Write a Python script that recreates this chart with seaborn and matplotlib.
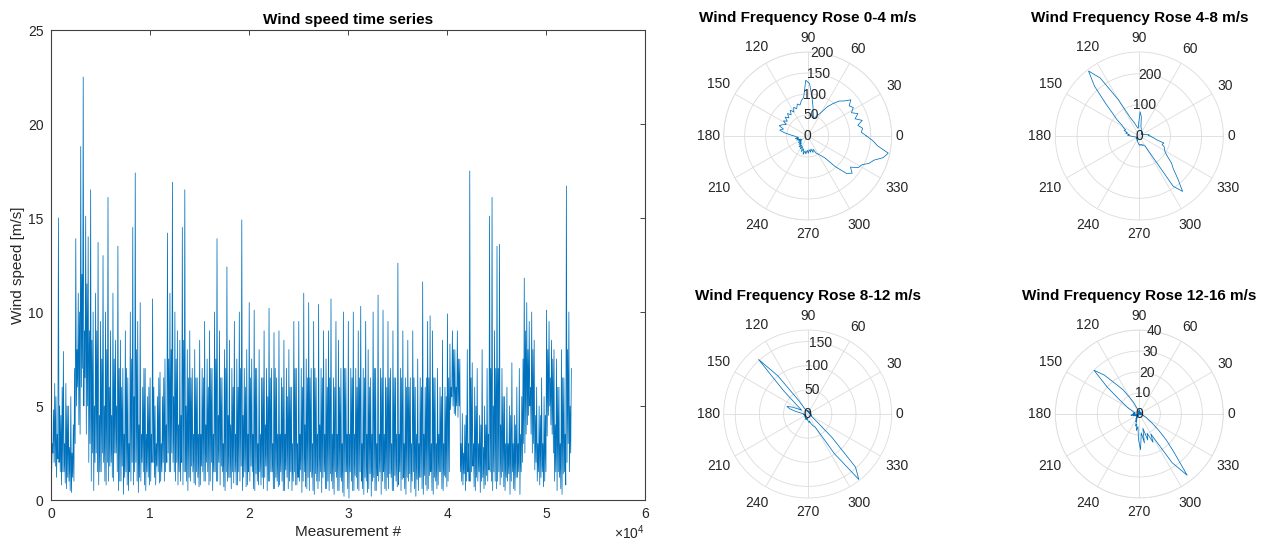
import numpy as np
import matplotlib
matplotlib.use("Agg")
import matplotlib.pyplot as plt
import seaborn as sns

# ---------------------------------------------------------------------------
# Wind speed record: successive local highs / lows of the 10-minute series
# (m/s), one block per 10 000 measurements (16 turning points per 1 000).
# ---------------------------------------------------------------------------
N_MEASUREMENTS = 52560

speed_0_1e4 = [
    6.5, 1.5, 3.0, 2.5, 4.8, 2.0, 6.2, 1.8, 5.5, 1.2, 3.5, 2.2, 15.0, 2.0, 5.0, 1.5,
    4.5, 0.8, 6.0, 1.5, 7.9, 1.5, 3.0, 0.9, 6.2, 0.6, 5.0, 1.2, 5.0, 1.0, 2.8, 0.5,
    5.5, 0.4, 2.5, 1.2, 4.0, 1.0, 7.0, 3.0, 13.9, 5.0, 8.0, 6.0, 11.0, 4.0, 10.0, 3.5,
    18.8, 6.0, 12.0, 7.0, 22.5, 5.0, 9.0, 6.5, 15.1, 3.5, 11.5, 5.0, 14.0, 2.0, 9.0, 3.0,
    16.5, 1.0, 8.5, 2.5, 10.0, 0.5, 5.0, 2.0, 11.0, 2.5, 9.0, 1.5, 13.7, 0.8, 4.5, 1.5,
    9.5, 1.5, 7.5, 2.5, 13.0, 2.0, 5.0, 1.0, 10.0, 0.8, 8.0, 2.0, 16.1, 1.0, 6.0, 1.8,
    9.0, 2.0, 4.5, 1.2, 11.0, 1.0, 7.5, 2.5, 8.5, 2.5, 5.0, 1.5, 13.5, 0.5, 7.0, 1.0,
    8.5, 1.0, 6.0, 1.8, 7.0, 0.3, 3.5, 1.2, 9.0, 1.5, 7.0, 0.8, 6.5, 0.5, 3.0, 1.5,
    10.0, 1.0, 7.5, 2.0, 14.5, 0.8, 5.5, 1.5, 17.4, 2.0, 8.0, 1.0, 9.5, 0.4, 4.0, 1.2,
    10.5, 1.0, 3.5, 2.0, 6.0, 1.5, 7.0, 0.8, 7.0, 0.5, 3.5, 1.5, 5.5, 1.2, 6.0, 0.8,
]
speed_1e4_2e4 = [
    6.5, 1.0, 3.5, 2.0, 10.7, 2.0, 6.0, 1.2, 5.0, 0.8, 3.0, 1.8, 5.5, 1.5, 6.5, 0.9,
    6.8, 1.0, 3.0, 1.5, 5.5, 2.0, 6.5, 1.0, 7.5, 1.5, 4.0, 2.0, 14.2, 2.5, 7.5, 1.5,
    11.0, 1.5, 8.0, 2.5, 16.9, 2.0, 5.5, 1.5, 10.0, 1.0, 7.5, 2.0, 9.0, 0.8, 4.0, 1.5,
    8.5, 1.0, 4.5, 2.0, 14.5, 0.8, 8.5, 1.5, 16.5, 1.5, 5.0, 1.0, 8.0, 0.5, 6.5, 1.2,
    9.0, 1.0, 6.5, 1.8, 7.0, 1.5, 3.5, 0.9, 8.0, 0.8, 6.5, 1.5, 6.5, 1.2, 3.5, 0.7,
    8.5, 0.8, 3.5, 1.8, 7.0, 1.5, 6.5, 1.0, 9.5, 1.0, 4.0, 2.0, 7.5, 1.5, 6.0, 0.8,
    9.0, 1.0, 7.0, 2.0, 7.0, 0.5, 3.5, 1.5, 10.0, 1.5, 7.5, 1.0, 13.9, 1.0, 4.5, 2.0,
    9.0, 0.8, 6.5, 1.8, 6.5, 1.5, 3.0, 0.7, 8.0, 0.5, 7.0, 1.5, 12.4, 1.0, 4.5, 1.2,
    8.5, 1.2, 4.0, 0.6, 7.0, 1.5, 6.0, 0.9, 9.5, 1.5, 3.5, 0.8, 7.5, 0.8, 6.0, 1.5,
    10.0, 1.0, 7.0, 1.8, 14.9, 0.5, 4.5, 1.2, 7.0, 1.5, 6.0, 0.7, 8.0, 0.8, 3.5, 1.5,
]
speed_2e4_3e4 = [
    10.5, 1.0, 6.5, 1.8, 7.5, 1.5, 3.5, 0.6, 10.1, 0.5, 7.0, 1.4, 7.0, 1.0, 3.0, 0.8,
    8.0, 1.5, 3.5, 0.8, 6.5, 1.2, 6.5, 0.6, 9.0, 1.2, 4.0, 1.8, 7.0, 0.5, 5.5, 1.0,
    10.2, 1.0, 6.5, 1.5, 7.0, 1.5, 3.0, 0.6, 8.9, 0.6, 7.0, 1.2, 6.5, 1.0, 3.5, 0.7,
    9.0, 0.8, 3.5, 1.5, 6.5, 1.0, 6.0, 0.5, 8.5, 0.5, 3.5, 1.6, 7.0, 1.2, 5.5, 0.6,
    8.0, 1.0, 6.0, 1.5, 6.0, 0.5, 3.0, 1.0, 9.5, 1.5, 7.0, 0.8, 7.0, 0.8, 3.0, 1.2,
    9.5, 1.0, 3.5, 1.6, 7.0, 0.4, 6.0, 1.0, 11.0, 1.5, 4.0, 0.7, 7.5, 0.6, 6.5, 1.2,
    10.5, 0.5, 6.5, 1.5, 7.0, 1.2, 3.0, 0.5, 9.5, 0.3, 7.0, 1.4, 6.5, 1.0, 3.5, 0.6,
    10.4, 1.0, 4.0, 1.5, 7.0, 0.4, 6.5, 1.2, 9.0, 1.5, 3.5, 0.6, 7.5, 0.6, 6.0, 1.0,
    9.0, 0.5, 6.5, 1.4, 10.7, 1.0, 3.5, 0.6, 6.5, 0.3, 6.0, 1.5, 9.5, 1.2, 3.5, 0.5,
    8.5, 0.5, 6.0, 1.2, 7.0, 1.0, 3.0, 0.4, 10.0, 0.2, 7.0, 1.5, 7.0, 1.5, 3.5, 0.6,
]
speed_3e4_4e4 = [
    9.5, 0.1, 3.5, 1.5, 7.0, 1.0, 6.5, 0.5, 10.0, 0.5, 3.5, 1.3, 7.0, 1.2, 6.0, 0.6,
    9.0, 0.5, 6.5, 1.5, 10.3, 1.0, 3.0, 0.6, 7.0, 0.3, 6.5, 1.2, 9.5, 1.0, 3.5, 0.4,
    8.0, 0.6, 6.0, 1.4, 6.5, 0.2, 3.5, 1.0, 10.0, 1.2, 7.0, 0.5, 7.0, 0.5, 3.0, 1.3,
    10.9, 1.0, 3.5, 1.5, 7.0, 0.3, 6.5, 1.0, 10.1, 1.5, 3.5, 0.6, 6.5, 0.5, 6.0, 1.2,
    9.5, 0.6, 6.5, 1.4, 7.0, 1.2, 3.0, 0.5, 9.0, 0.5, 6.5, 1.3, 6.5, 1.0, 3.5, 0.7,
    12.6, 0.8, 3.5, 1.5, 7.0, 0.5, 6.5, 1.1, 9.0, 1.2, 3.0, 0.6, 6.5, 0.3, 6.0, 1.2,
    8.5, 1.0, 6.0, 1.4, 6.5, 0.4, 3.0, 1.0, 9.0, 1.5, 6.5, 0.6, 6.0, 0.2, 3.5, 1.1,
    7.5, 0.5, 3.0, 1.2, 6.5, 1.2, 6.0, 0.6, 11.6, 0.3, 3.5, 1.3, 6.0, 0.8, 6.5, 0.5,
    9.5, 0.6, 6.5, 1.3, 9.8, 1.5, 3.0, 0.5, 9.0, 0.3, 6.5, 1.2, 6.5, 1.0, 3.0, 0.6,
    7.0, 0.8, 3.5, 1.5, 6.0, 1.5, 5.5, 0.6, 8.5, 0.5, 3.0, 1.3, 6.0, 1.2, 5.5, 0.7,
]
speed_4e4_5e4 = [
    9.9, 1.0, 6.5, 1.5, 8.3, 4.8, 6.0, 5.5, 9.0, 5.0, 8.0, 4.6, 8.0, 4.5, 6.0, 5.0,
    9.0, 4.4, 7.5, 5.0, 7.5, 1.5, 3.0, 1.0, 4.6, 0.8, 2.5, 1.4, 4.0, 0.5, 4.5, 1.0,
    8.0, 1.5, 3.0, 1.0, 17.5, 1.0, 6.5, 1.5, 7.3, 1.8, 3.0, 0.7, 6.0, 0.5, 5.0, 1.2,
    7.0, 1.0, 3.0, 1.5, 4.5, 0.4, 4.0, 1.0, 8.0, 1.2, 2.8, 0.6, 5.0, 0.8, 4.0, 1.3,
    7.0, 1.0, 3.5, 1.6, 15.1, 1.5, 7.0, 1.0, 16.1, 0.5, 5.0, 1.5, 9.0, 1.0, 7.0, 0.6,
    13.5, 1.0, 7.0, 1.5, 13.6, 0.8, 4.0, 1.2, 7.0, 1.5, 5.5, 0.7, 5.5, 0.5, 3.0, 1.2,
    6.0, 1.0, 3.0, 1.4, 5.0, 0.3, 4.5, 1.0, 7.3, 1.5, 3.0, 0.6, 4.5, 0.5, 4.0, 1.2,
    6.0, 1.2, 3.0, 1.5, 7.0, 0.3, 3.5, 1.5, 5.5, 2.0, 7.5, 3.0, 11.8, 2.5, 9.0, 3.5,
    10.5, 4.0, 8.0, 4.5, 9.5, 5.0, 6.0, 3.5, 10.0, 2.5, 8.0, 3.0, 8.5, 1.6, 4.5, 2.0,
    6.0, 1.0, 3.0, 1.5, 5.0, 0.8, 4.5, 1.2, 6.5, 1.5, 3.0, 0.7, 5.5, 1.0, 4.5, 1.5,
]
speed_5e4_end = [
    10.1, 3.4, 8.0, 4.5, 9.5, 5.0, 6.5, 4.0, 8.5, 3.5, 7.5, 2.5, 8.0, 1.0, 4.0, 1.5,
    7.5, 0.5, 6.0, 1.5, 6.0, 1.2, 3.0, 0.6, 8.0, 0.3, 6.5, 1.4, 6.5, 1.5, 3.5, 0.8,
    16.7, 2.0, 8.0, 3.0, 10.0, 1.5, 5.0, 2.5, 7.0,
]

# ---------------------------------------------------------------------------
# Direction counts per 4-degree sector (0, 4, ..., 356 deg) for each speed class
# ---------------------------------------------------------------------------
ROSE_STEP_DEG = 4

rose_0_4 = [
    140, 128, 132, 122, 135, 120, 131, 118, 128, 122,
    134, 120, 112, 98, 84, 66, 55, 47, 44, 55,
    72, 95, 125, 133, 92, 86, 76, 80, 70, 76,
    66, 74, 64, 72, 62, 70, 60, 68, 58, 66,
    72, 60, 68, 56, 42, 32, 28, 22, 30, 22,
    28, 18, 25, 16, 27, 20, 29, 22, 33, 26,
    35, 28, 40, 32, 45, 36, 43, 34, 41, 33,
    39, 32, 41, 34, 45, 50, 56, 66, 98, 128,
    138, 126, 142, 146, 160, 168, 187, 196, 168, 155,
]
rose_4_8 = [
    35, 28, 32, 22, 18, 15, 12, 10, 12, 9,
    11, 10, 12, 14, 13, 16, 15, 18, 20, 26,
    30, 62, 78, 45, 28, 25, 30, 38, 50, 65,
    135, 225, 265, 215, 150, 110, 88, 66, 58, 48,
    52, 40, 45, 32, 38, 28, 22, 18, 14, 12,
    10, 9, 10, 8, 10, 12, 14, 12, 10, 12,
    14, 16, 14, 18, 20, 22, 25, 28, 30, 27,
    30, 28, 32, 30, 34, 38, 195, 226, 185, 152,
    135, 112, 98, 92, 88, 78, 82, 56, 48, 40,
]
rose_8_12 = [
    6, 5, 7, 4, 6, 5, 4, 6, 5, 4,
    5, 4, 6, 5, 4, 5, 6, 4, 5, 6,
    5, 7, 6, 5, 8, 6, 7, 9, 8, 10,
    14, 35, 100, 152, 70, 32, 20, 15, 22, 35,
    46, 38, 25, 14, 10, 8, 9, 7, 8, 6,
    7, 5, 8, 6, 7, 5, 8, 6, 9, 7,
    8, 10, 9, 12, 10, 11, 9, 12, 14, 16,
    18, 15, 20, 24, 28, 32, 100, 172, 148, 70,
    25, 14, 10, 8, 9, 7, 8, 6, 7, 5,
]
rose_12_16 = [
    1, 0, 1, 0, 0, 1, 0, 0, 1, 0,
    0, 1, 0, 0, 1, 0, 0, 1, 0, 1,
    0, 1, 2, 1, 0, 1, 0, 2, 3, 6,
    9, 14, 18, 25, 30, 20, 12, 8, 6, 4,
    3, 2, 2, 3, 2, 3, 2, 4, 2, 3,
    1, 2, 1, 0, 1, 0, 1, 2, 1, 3,
    2, 4, 3, 6, 5, 8, 6, 12, 17, 9,
    14, 7, 13, 10, 15, 11, 28, 37, 25, 18,
    12, 8, 5, 4, 3, 2, 2, 1, 1, 0,
]

rose_titles = ["Wind Frequency Rose 0-4 m/s", "Wind Frequency Rose 4-8 m/s",
               "Wind Frequency Rose 8-12 m/s", "Wind Frequency Rose 12-16 m/s"]
rose_limits = [200, 270, 174, 40]
rose_ticks = [[50, 100, 150, 200], [100, 200], [50, 100, 150], [10, 20, 30, 40]]
theta_labels = [str(a) for a in range(0, 360, 30)]

# ---------------------------------------------------------------------------
# Styling
# ---------------------------------------------------------------------------
sns.set_style("white")
plt.rcParams["font.family"] = ["Liberation Sans", "DejaVu Sans"]
plt.rcParams["mathtext.fontset"] = "custom"
plt.rcParams["mathtext.rm"] = "Liberation Sans"
plt.rcParams["mathtext.it"] = "Liberation Sans:italic"

LINE = "#0072BD"
TEXT = "#262626"
GRID = "#dcdcdc"

W, H = 1262, 543
fig = plt.figure(figsize=(W / 100, H / 100), dpi=100)


def px_rect(x0, y0, x1, y1):
    return [x0 / W, 1 - y1 / H, (x1 - x0) / W, (y1 - y0) / H]


# ---------------------------------------------------------------------------
# Time series
# ---------------------------------------------------------------------------
wind_speed = np.array(speed_0_1e4 + speed_1e4_2e4 + speed_2e4_3e4
                      + speed_3e4_4e4 + speed_4e4_5e4 + speed_5e4_end)
measurement = np.linspace(0, N_MEASUREMENTS, len(wind_speed))

ax = fig.add_axes(px_rect(51, 30, 645, 500))
sns.lineplot(x=measurement, y=wind_speed, ax=ax, sort=False,
             color=LINE, linewidth=0.55)
ax.set_xlim(0, 60000)
ax.set_ylim(0, 25)
ax.set_xticks(np.arange(0, 60001, 10000))
ax.set_xticklabels([str(i) for i in range(7)])
ax.set_yticks(np.arange(0, 26, 5))
ax.tick_params(direction="in", length=3.6, width=0.6, top=True, right=True,
               labelsize=10, colors=TEXT, pad=5.4)
for s in ax.spines.values():
    s.set_color("#404040")
    s.set_linewidth(0.8)
ax.set_xlabel("Measurement #", fontsize=11, color=TEXT)
ax.set_ylabel("Wind speed [m/s]", fontsize=11, color=TEXT)
ax.xaxis.set_label_coords(0.5, -25.5 / 470)
ax.yaxis.set_label_coords(-26 / 594, 0.5)
ax.text(1.0, -33 / 470, r"$\times10^{4}$", transform=ax.transAxes,
        ha="right", va="center", fontsize=10, color=TEXT)
ax.text(0.5, 1 + 10 / 470, "Wind speed time series", transform=ax.transAxes,
        ha="center", va="center", fontsize=11, fontweight="bold", color="black")

# ---------------------------------------------------------------------------
# Wind roses
# ---------------------------------------------------------------------------
R = 84
centers = [(807.7, 136), (1139.3, 136), (807.7, 414), (1139.3, 414)]
rose_counts = [rose_0_4, rose_4_8, rose_8_12, rose_12_16]
angles = np.arange(0, 360, ROSE_STEP_DEG)
grid_angles = np.arange(0, 360, 30)

for (cx, cy), counts, title, rmax, ticks in zip(centers, rose_counts, rose_titles,
                                                rose_limits, rose_ticks):
    pax = fig.add_axes(px_rect(cx - R, cy - R, cx + R, cy + R), projection="polar")
    theta = np.deg2rad(np.append(angles, 360))
    r = np.append(counts, counts[0])
    sns.lineplot(x=theta, y=r, ax=pax, sort=False, color=LINE, linewidth=0.55)
    pax.set_xlabel("")
    pax.set_ylabel("")
    pax.set_ylim(0, rmax)
    pax.set_yticks(ticks)
    pax.set_yticklabels([])
    pax.set_xticks(np.deg2rad(grid_angles))
    pax.set_xticklabels([])
    pax.grid(True, color=GRID, linewidth=0.6)
    pax.spines["polar"].set_color(GRID)
    pax.spines["polar"].set_linewidth(0.6)
    # angle labels just outside the rim
    for ang, lab in zip(grid_angles, theta_labels):
        a = np.deg2rad(ang)
        off = R + 4 + abs(np.cos(a)) * len(lab) * 3.85 + abs(np.sin(a)) * 10
        pax.text(a, rmax * off / R, lab, ha="center", va="center",
                 fontsize=10, color=TEXT, clip_on=False)
    # ring values along the 80 degree spoke
    for t in [0] + ticks:
        pax.text(np.deg2rad(80), t, str(t), ha="center", va="center",
                 fontsize=10, color=TEXT)
    pax.text(0.5, 1 + 34 / 168, title, transform=pax.transAxes, ha="center",
             va="center", fontsize=11, fontweight="bold", color="black")

fig.savefig("out.png", dpi=100)
